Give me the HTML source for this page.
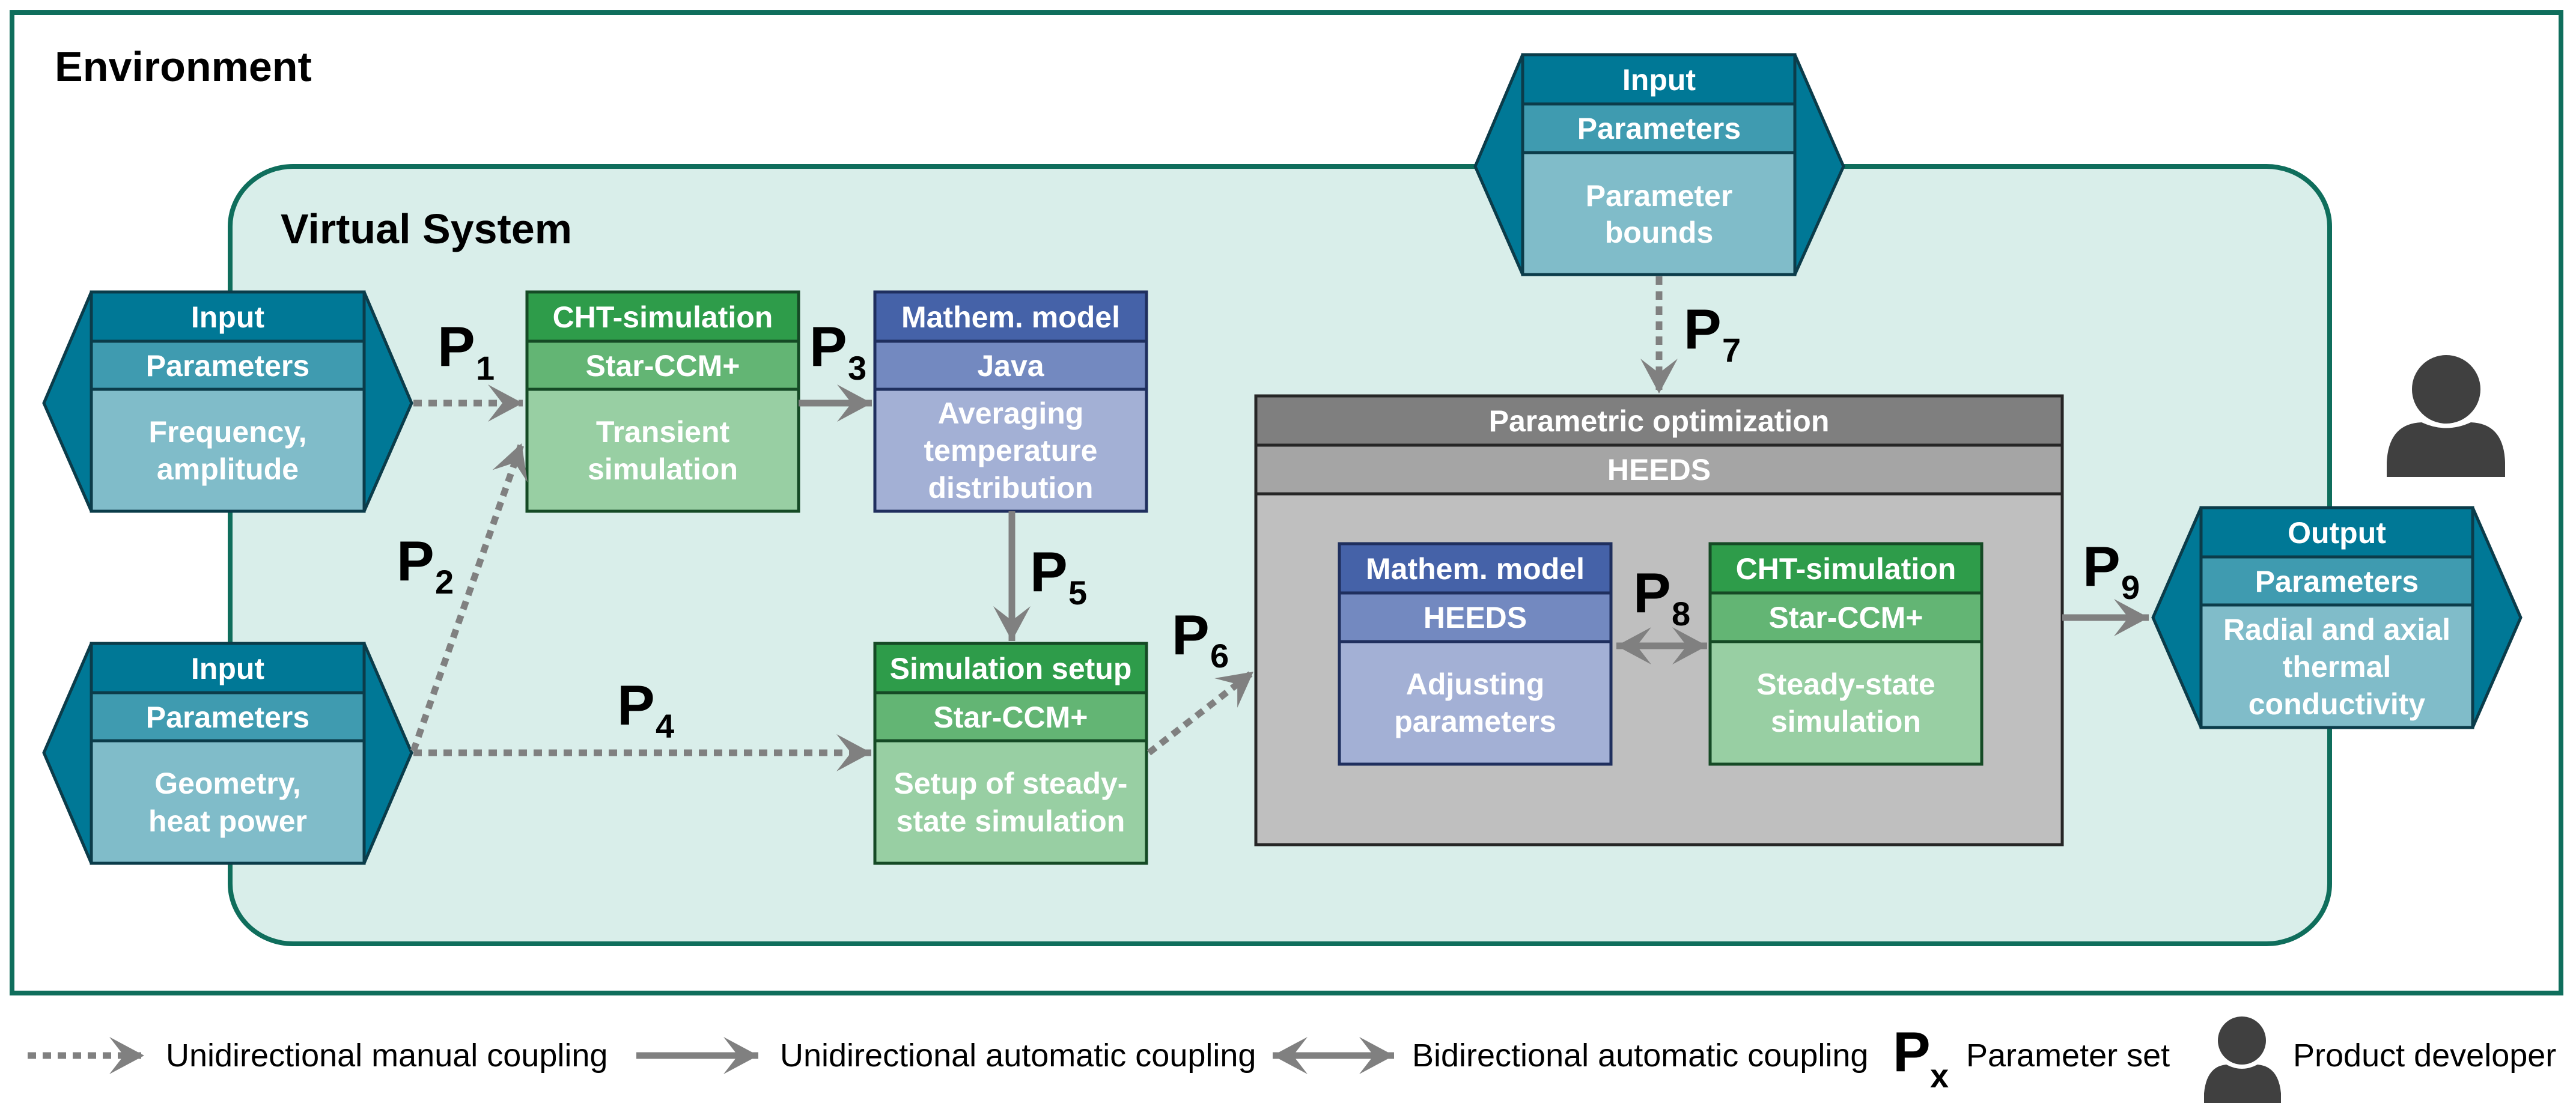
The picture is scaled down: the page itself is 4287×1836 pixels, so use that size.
<!DOCTYPE html>
<html><head><meta charset="utf-8"><style>
html,body{margin:0;padding:0;background:#fff}
svg{display:block}
text{font-family:"Liberation Sans Narrow","Liberation Sans",sans-serif}
.w{fill:#fff;font-weight:bold;font-size:50px;text-anchor:middle}
.p{fill:#000;font-weight:bold;font-size:94px;font-family:"Liberation Sans",sans-serif}
.ps{fill:#000;font-weight:bold;font-size:56px}
.lg{fill:#000;font-size:54px}
</style></head><body>
<svg width="4287" height="1836" viewBox="0 0 4287 1836" xmlns="http://www.w3.org/2000/svg">
<defs>
<marker id="ah" viewBox="-60 -32 62 64" refX="0" refY="0" markerWidth="62" markerHeight="64" markerUnits="userSpaceOnUse" orient="auto">
<polygon points="0,0 -58,-31 -34,0 -58,31" fill="#808080"/>
</marker>
<marker id="ahs" viewBox="-60 -32 62 64" refX="0" refY="0" markerWidth="62" markerHeight="64" markerUnits="userSpaceOnUse" orient="auto-start-reverse">
<polygon points="0,0 -58,-31 -34,0 -58,31" fill="#808080"/>
</marker>
</defs>
<rect x="20" y="21" width="4242" height="1632" fill="#fff" stroke="#0f6e5c" stroke-width="8"/>
<text x="91" y="135" style="font-size:70px;font-weight:bold;fill:#000">Environment</text>
<rect x="383" y="277" width="3494" height="1294" rx="105" ry="100" fill="#d9eeea" stroke="#0f6e5c" stroke-width="8"/>
<text x="467" y="405" style="font-size:70px;font-weight:bold;fill:#000">Virtual System</text>

<g stroke="#0b3c4a" stroke-width="5">
<polygon points="73,671 152,486 606,486 685,671 606,851 152,851" fill="#007896"/>
<polygon points="73,1253 152,1071 606,1071 685,1253 606,1437 152,1437" fill="#007896"/>
<polygon points="2455,277 2534,91 2987,91 3068,277 2987,457 2534,457" fill="#007896"/>
<polygon points="3583,1028 3663,845 4115,845 4195,1028 4115,1211 3663,1211" fill="#007896"/>
</g>
<g stroke="#0b3c4a" stroke-width="5">
<rect x="152" y="486" width="454" height="82" fill="#007896"/><rect x="152" y="568" width="454" height="80" fill="#3f9bb0"/><rect x="152" y="648" width="454" height="203" fill="#80bcc9"/>
<rect x="152" y="1071" width="454" height="82" fill="#007896"/><rect x="152" y="1153" width="454" height="80" fill="#3f9bb0"/><rect x="152" y="1233" width="454" height="204" fill="#80bcc9"/>
<rect x="2534" y="91" width="453" height="82" fill="#007896"/><rect x="2534" y="173" width="453" height="81" fill="#3f9bb0"/><rect x="2534" y="254" width="453" height="203" fill="#80bcc9"/>
<rect x="3663" y="845" width="452" height="82" fill="#007896"/><rect x="3663" y="927" width="452" height="80" fill="#3f9bb0"/><rect x="3663" y="1007" width="452" height="204" fill="#80bcc9"/>
</g>
<g stroke="#154a25" stroke-width="5">
<rect x="877" y="486" width="452" height="82" fill="#2e9c4a"/><rect x="877" y="568" width="452" height="80" fill="#63b574"/><rect x="877" y="648" width="452" height="203" fill="#98cfa3"/>
<rect x="1456" y="1071" width="452" height="82" fill="#2e9c4a"/><rect x="1456" y="1153" width="452" height="80" fill="#63b574"/><rect x="1456" y="1233" width="452" height="204" fill="#98cfa3"/>
</g>
<g stroke="#1f2f5e" stroke-width="5">
<rect x="1456" y="486" width="452" height="82" fill="#4562a8"/><rect x="1456" y="568" width="452" height="80" fill="#7389c0"/><rect x="1456" y="648" width="452" height="203" fill="#a3b0d5"/>
</g>
<g stroke="#262626" stroke-width="5">
<rect x="2090" y="659" width="1342" height="82" fill="#7f7f7f"/><rect x="2090" y="741" width="1342" height="81" fill="#a5a5a5"/><rect x="2090" y="822" width="1342" height="584" fill="#bfbfbf"/>
</g>
<g stroke="#1f2f5e" stroke-width="5">
<rect x="2229" y="905" width="452" height="82" fill="#4562a8"/><rect x="2229" y="987" width="452" height="81" fill="#7389c0"/><rect x="2229" y="1068" width="452" height="204" fill="#a3b0d5"/>
</g>
<g stroke="#154a25" stroke-width="5">
<rect x="2846" y="905" width="452" height="82" fill="#2e9c4a"/><rect x="2846" y="987" width="452" height="81" fill="#63b574"/><rect x="2846" y="1068" width="452" height="204" fill="#98cfa3"/>
</g>

<text class="w" x="379" y="545">Input</text><text class="w" x="379" y="626">Parameters</text>
<text class="w" x="379" y="736">Frequency,</text><text class="w" x="379" y="798">amplitude</text>
<text class="w" x="379" y="1130">Input</text><text class="w" x="379" y="1211">Parameters</text>
<text class="w" x="379" y="1321">Geometry,</text><text class="w" x="379" y="1384">heat power</text>
<text class="w" x="2761" y="150">Input</text><text class="w" x="2761" y="231">Parameters</text>
<text class="w" x="2761" y="343">Parameter</text><text class="w" x="2761" y="404">bounds</text>
<text class="w" x="3889" y="904">Output</text><text class="w" x="3889" y="985">Parameters</text>
<text class="w" x="3889" y="1065">Radial and axial</text><text class="w" x="3889" y="1127">thermal</text><text class="w" x="3889" y="1189">conductivity</text>
<text class="w" x="1103" y="545">CHT-simulation</text><text class="w" x="1103" y="626">Star-CCM+</text>
<text class="w" x="1103" y="736">Transient</text><text class="w" x="1103" y="798">simulation</text>
<text class="w" x="1682" y="545">Mathem. model</text><text class="w" x="1682" y="626">Java</text>
<text class="w" x="1682" y="705">Averaging</text><text class="w" x="1682" y="767">temperature</text><text class="w" x="1682" y="829">distribution</text>
<text class="w" x="1682" y="1130">Simulation setup</text><text class="w" x="1682" y="1211">Star-CCM+</text>
<text class="w" x="1682" y="1321">Setup of steady-</text><text class="w" x="1682" y="1384">state simulation</text>
<text class="w" x="2761" y="718">Parametric optimization</text><text class="w" x="2761" y="799">HEEDS</text>
<text class="w" x="2455" y="964">Mathem. model</text><text class="w" x="2455" y="1045">HEEDS</text>
<text class="w" x="2455" y="1156">Adjusting</text><text class="w" x="2455" y="1218">parameters</text>
<text class="w" x="3072" y="964">CHT-simulation</text><text class="w" x="3072" y="1045">Star-CCM+</text>
<text class="w" x="3072" y="1156">Steady-state</text><text class="w" x="3072" y="1218">simulation</text>

<g stroke="#808080" stroke-width="11" fill="none">
<line x1="688" y1="671" x2="870" y2="671" stroke-dasharray="14 11" marker-end="url(#ah)" />
<line x1="688" y1="1250" x2="868" y2="738" stroke-dasharray="14 11" marker-end="url(#ah)"/>
<line x1="1329" y1="671" x2="1451" y2="671" marker-end="url(#ah)"/>
<line x1="688" y1="1253" x2="1450" y2="1253" stroke-dasharray="14 11" marker-end="url(#ah)"/>
<line x1="1684" y1="851" x2="1684" y2="1067" marker-end="url(#ah)"/>
<line x1="1912" y1="1253" x2="2086" y2="1118" stroke-dasharray="14 11" marker-end="url(#ah)"/>
<line x1="2761" y1="460" x2="2761" y2="655" stroke-dasharray="14 11" marker-end="url(#ah)"/>
<line x1="2690" y1="1075" x2="2841" y2="1075" marker-start="url(#ahs)" marker-end="url(#ah)"/>
<line x1="3432" y1="1028" x2="3576" y2="1028" marker-end="url(#ah)"/>
</g>

<text class="p" x="728" y="609">P</text><text class="ps" x="792" y="632">1</text>
<text class="p" x="660" y="966">P</text><text class="ps" x="724" y="988">2</text>
<text class="p" x="1347" y="609">P</text><text class="ps" x="1411" y="632">3</text>
<text class="p" x="1027" y="1206">P</text><text class="ps" x="1091" y="1228">4</text>
<text class="p" x="1714" y="984">P</text><text class="ps" x="1778" y="1006">5</text>
<text class="p" x="1950" y="1089">P</text><text class="ps" x="2014" y="1111">6</text>
<text class="p" x="2802" y="580">P</text><text class="ps" x="2866" y="602">7</text>
<text class="p" x="2718" y="1019">P</text><text class="ps" x="2782" y="1041">8</text>
<text class="p" x="3466" y="975">P</text><text class="ps" x="3530" y="997">9</text>

<circle cx="4071" cy="648" r="57" fill="#404040"/>
<path d="M3972,794 L3972,770 Q3975,705 4030,703 Q4071,722 4112,703 Q4167,705 4169,770 L4169,794 Z" fill="#404040"/>

<g stroke="#808080" stroke-width="11" fill="none">
<line x1="46" y1="1757" x2="240" y2="1757" stroke-dasharray="14 11" marker-end="url(#ah)"/>
<line x1="1059" y1="1757" x2="1262" y2="1757" marker-end="url(#ah)"/>
<line x1="2118" y1="1757" x2="2320" y2="1757" marker-start="url(#ahs)" marker-end="url(#ah)"/>
</g>
<text class="lg" x="276" y="1775">Unidirectional manual coupling</text>
<text class="lg" x="1298" y="1775">Unidirectional automatic coupling</text>
<text class="lg" x="2350" y="1775">Bidirectional automatic coupling</text>
<text class="p" x="3150" y="1783">P</text><text class="ps" x="3212" y="1810">x</text>
<text class="lg" x="3272" y="1775">Parameter set</text>
<circle cx="3731" cy="1732" r="40" fill="#404040"/>
<path d="M3668,1836 L3668,1820 Q3672,1775 3705,1772 Q3731,1786 3757,1772 Q3792,1775 3796,1820 L3796,1836 Z" fill="#404040"/>
<text class="lg" x="3816" y="1775">Product developer</text>
</svg>
</body></html>
